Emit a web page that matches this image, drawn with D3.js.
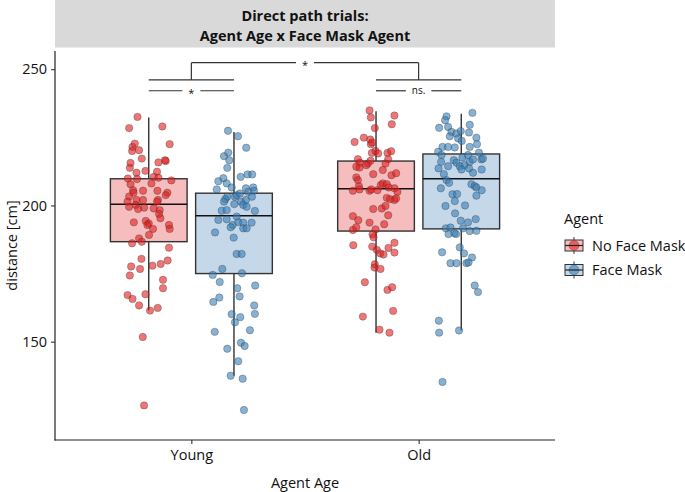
<!DOCTYPE html>
<html><head><meta charset="utf-8">
<script src="https://cdn.jsdelivr.net/npm/d3@7"></script>
<style>body{margin:0;background:#fff}svg{display:block}text{font-family:"Open Sans",sans-serif;fill:#111}</style>
</head><body><svg id="c" width="685" height="492"></svg>
<script>
// ---------- data ----------
const ages = ["Young", "Old"];
const agents = ["No Face Mask", "Face Mask"];
const yTicks = [150, 200, 250];
const titleLines = ["Direct path trials:", "Agent Age x Face Mask Agent"];

// box statistics [lowWhisker, q1, median, q3, highWhisker]
const boxYoungNoMask = [161.4, 186.7, 200.4, 209.8, 232.3];
const boxYoungMask   = [137.5, 175.0, 196.2, 204.5, 227.0];
const boxOldNoMask   = [153.3, 190.6, 206.1, 216.3, 234.6];
const boxOldMask     = [154.1, 191.4, 209.8, 218.9, 233.7];

// observations [distance, jitter]
const ptsYoungNoMask = [[232.5,-11.3],[228.4,-19.7],[229.0,13.7],[222.5,21],[221.5,-16.3],[222.7,-14],[220.3,-9.7],[220.0,-16.7],[217.2,-7],[215.6,-18.3],[213.8,-19],[215.8,9.7],[216.3,17],[216.6,16.3],[212.7,-3.3],[212.0,-12.3],[212.4,8.3],[210.5,5],[209.9,-21],[209.7,-11.7],[210.2,9.7],[209.2,22.7],[208.1,2.7],[207.8,-18.3],[205.6,-15.7],[205.4,-5.7],[204.7,-15.3],[205.4,8.7],[204.7,18.7],[203.8,17],[203.3,-19.7],[201.4,-21.3],[202.0,-12.3],[202.0,-5.7],[202.0,9.3],[201.4,8.3],[199.5,-19.7],[200.2,-13],[199.2,-4.7],[198.7,-10.7],[198.9,5],[198.3,11],[196.9,10.3],[195.3,11.7],[193.8,-15],[194.3,-3],[193.4,0],[192.8,-1.3],[192.8,20.3],[191.4,21],[191.4,4.3],[189.2,0.3],[187.9,-9.7],[186.7,-7],[186.1,-16.7],[184.5,20.3],[180.4,-7.3],[177.6,-17.7],[177.9,3.7],[178.5,12],[179.8,19],[176.7,-8.7],[174.3,-19],[172.7,14.3],[169.6,14.3],[167.1,-21.3],[165.7,-16.3],[167.4,-3.3],[163.3,-9.7],[162.4,9],[161.4,1.3],[151.7,-6],[126.6,-4.7]];
const ptsYoungMask = [[227.4,-6],[225.4,4],[221.2,12.3],[218.1,-10],[219.4,-5.7],[216.6,-4.7],[213.8,-6.7],[210.5,6.7],[211.4,13.7],[211.4,18.3],[210.0,-10.7],[208.9,-15.7],[208.1,-7.3],[205.9,-17.3],[206.3,12],[206.6,19.3],[205.4,20],[203.2,-6.7],[202.3,-8.7],[203.2,1],[201.4,7],[202.0,12],[203.2,18],[201.4,-10],[200.5,0.3],[200.2,9.3],[199.5,12.7],[198.0,21],[198.1,-12.3],[198.3,-7.3],[194.7,-15.7],[194.9,-7.3],[192.8,-1.3],[193.9,4.3],[193.7,9.3],[193.7,17.7],[191.6,9.3],[191.6,12.7],[192.0,-3.3],[190.1,-19],[188.2,-0.3],[182.2,2.7],[182.2,7.7],[176.7,-11.7],[175.1,8],[174.5,-21.3],[171.9,-14.3],[170.6,21.3],[169.6,3.3],[164.6,-20.7],[166.2,-14.7],[166.6,5.7],[163.3,20.3],[160.2,21],[160.1,-2.3],[159.0,6.3],[157.1,1],[154.2,16],[153.6,-19.3],[147.4,-6.7],[149.6,7],[148.4,10.7],[142.8,4.3],[137.5,-3.3],[136.4,8.7],[124.9,10],[203.8,2.7],[205.0,14.3],[206.6,-2.3],[204.4,6],[195.9,2.7]];
const ptsOldNoMask = [[234.9,-6.5],[232.3,-5.2],[233.0,18.5],[229.8,15.8],[228.4,-1.2],[223.3,-21.5],[224.9,-12.2],[224.2,-5.8],[222.5,-5.2],[223.1,-3.8],[219.3,-4.2],[220.0,-0.5],[219.1,2.2],[219.3,11.5],[219.9,15.2],[217.0,12.2],[217.0,-18.2],[215.7,-16.2],[215.4,-8.2],[216.4,-5.5],[215.4,9.5],[214.2,-19.8],[213.9,-16.5],[214.8,-9.8],[213.0,6.8],[211.1,15.5],[211.8,20.2],[211.5,-2.8],[210.3,-19.8],[209.3,-18.2],[207.1,-17.2],[207.5,4.8],[208.1,6.8],[207.8,10.8],[206.6,12.8],[206.3,18.5],[205.0,21.5],[205.4,-23.2],[205.9,-16.5],[205.4,-6.5],[205.9,-4.8],[205.6,1.5],[202.8,10.8],[202.3,14.2],[202.0,18.5],[202.6,20.2],[198.7,-2.8],[198.9,5.8],[199.8,9.5],[196.1,-23.2],[194.6,-17.8],[193.7,-6.5],[196.4,12.2],[193.1,8.2],[191.0,-23.2],[192.0,-19.8],[191.2,-0.5],[189.4,-3.5],[188.3,-2.5],[185.4,-22.8],[184.9,-3.8],[183.7,0.8],[182.4,4.2],[182.0,7.5],[184.4,12.5],[186.3,18.5],[182.7,18.5],[178.4,-1.2],[177.2,-1.5],[176.7,4.5],[171.8,-11.2],[169.0,11.5],[170.0,16.2],[161.3,17.2],[159.2,-13.2],[154.4,3.5],[153.3,13.5]];
const ptsOldMask = [[234.0,11.2],[232.7,-14.8],[231.3,-16.2],[228.5,-22.2],[228.8,-13.2],[229.6,8.5],[227.0,-9.8],[226.4,-4.8],[225.4,-11.5],[227.3,-0.5],[226.8,7.8],[224.6,-3.2],[224.9,15.2],[223.7,0.5],[221.5,-18.8],[221.5,-13.2],[221.3,-6.5],[221.5,8.5],[222.5,15.8],[219.7,-23.2],[218.5,-19.8],[217.6,1.2],[218.5,6.8],[219.4,17.8],[216.9,20.2],[216.0,-20.2],[216.6,-7.5],[215.7,-4.8],[214.4,-1.5],[214.8,3.2],[216.0,8.5],[216.9,11.8],[217.2,21.8],[213.6,-22.8],[214.4,-13.2],[213.2,0.2],[213.6,7.8],[212.0,11.8],[213.2,20.5],[211.5,-17.5],[209.3,-14.8],[208.3,-12.2],[207.8,10.2],[207.1,13.5],[206.3,-20.5],[206.6,15.2],[205.6,20.5],[204.1,-8.8],[204.2,-4.2],[203.6,15.2],[201.6,-6.5],[200.0,3.8],[199.8,-15.8],[197.1,-6.2],[194.4,-0.5],[195.0,14.5],[193.8,6.8],[191.6,-15.5],[191.9,-10.8],[191.6,1.8],[190.6,8.5],[190.7,15.2],[189.5,-12.8],[189.8,-6.8],[189.5,-5.2],[184.6,-1.5],[182.8,-19.2],[182.4,2.8],[178.8,-10.8],[178.8,-4.8],[178.8,5.2],[180.9,10.8],[179.1,7.3],[170.6,13.5],[168.2,16.8],[157.7,-22.5],[153.3,-22.2],[154.1,-2.2],[135.2,-18.8]];

// significance annotations
const withinTests = [{age:"Young", y:242.1, label:"*"}, {age:"Old", y:242.1, label:"ns."}];
const betweenTest = {from:"Young", to:"Old", y:252.4, foot:246.1, label:"*"};

// ---------- build ----------
const groups = [
  {age:"Young", agent:"No Face Mask", box:boxYoungNoMask, pts:ptsYoungNoMask},
  {age:"Young", agent:"Face Mask", box:boxYoungMask, pts:ptsYoungMask},
  {age:"Old", agent:"No Face Mask", box:boxOldNoMask, pts:ptsOldNoMask},
  {age:"Old", agent:"Face Mask", box:boxOldMask, pts:ptsOldMask}
];
const ptColor = {"No Face Mask":"#E41A1C", "Face Mask":"#377EB8"};
const boxColor = {"No Face Mask":"#F5BDBD", "Face Mask":"#C4D8EA"};

const svg = d3.select("#c");
const L = 55, R = 555, T = 51, B = 440;
const x = d3.scalePoint().domain(ages).range([L, R]).padding(0.6);
const step = x.step();
const dodge = d3.scaleBand().domain(agents).range([-step*0.375, step*0.375]);
const boxW = dodge.bandwidth()*0.9;
const y = d3.scaleLinear().domain([113.9, 256.7]).range([B, T]);
const jit = d3.scaleLinear().domain([-38.5, 38.5]).range([-boxW/2, boxW/2]);
const cx = g => x(g.age) + dodge(g.agent) + dodge.bandwidth()/2;

// strip header
svg.append("rect").attr("x", L).attr("y", 0).attr("width", R-L).attr("height", 47.5).attr("fill", "#D9D9D9");
titleLines.forEach((t,i) => svg.append("text").attr("x", (L+R)/2).attr("y", 21 + i*20)
  .attr("text-anchor","middle").attr("font-size", 14.5).attr("font-weight", 700).text(t));

// axes
const ya = svg.append("g").attr("transform", `translate(${L},0)`)
  .call(d3.axisLeft(y).tickValues(yTicks).tickSize(4).tickPadding(4));
const xa = svg.append("g").attr("transform", `translate(0,${B})`)
  .call(d3.axisBottom(x).tickSize(4).tickPadding(6));
[ya, xa].forEach(a => {
  a.select(".domain").remove();
  a.selectAll("line").attr("stroke", "#222");
  a.selectAll("text").attr("font-size", 14.5).attr("fill", "#222").style("font-family", "'Open Sans',sans-serif");
});
svg.append("line").attr("x1", L).attr("x2", L).attr("y1", T).attr("y2", B+0.5).attr("stroke","#222").attr("stroke-width",1.2);
svg.append("line").attr("x1", L-0.5).attr("x2", R).attr("y1", B).attr("y2", B).attr("stroke","#222").attr("stroke-width",1.2);

svg.append("text").attr("transform", `translate(17,${(T+B)/2}) rotate(-90)`).attr("text-anchor","middle")
  .attr("font-size", 14.5).text("distance [cm]");
svg.append("text").attr("x", (L+R)/2).attr("y", 488).attr("text-anchor","middle").attr("font-size", 14.5).text("Agent Age");

// boxes
const gb = svg.append("g");
groups.forEach(g => {
  const c = cx(g), [lo, q1, md, q3, hi] = g.box;
  gb.append("line").attr("x1", c).attr("x2", c).attr("y1", y(hi)).attr("y2", y(q3)).attr("stroke","#222").attr("stroke-width",1.3);
  gb.append("line").attr("x1", c).attr("x2", c).attr("y1", y(q1)).attr("y2", y(lo)).attr("stroke","#222").attr("stroke-width",1.3);
  gb.append("rect").attr("x", c-boxW/2).attr("y", y(q3)).attr("width", boxW).attr("height", y(q1)-y(q3))
    .attr("fill", boxColor[g.agent]).attr("stroke", "#333").attr("stroke-width", 1.4);
  gb.append("line").attr("x1", c-boxW/2).attr("x2", c+boxW/2).attr("y1", y(md)).attr("y2", y(md)).attr("stroke","#111").attr("stroke-width",1.5);
});

// points
const gp = svg.append("g");
groups.forEach(g => {
  const c = cx(g);
  gp.selectAll(null).data(g.pts).enter().append("circle")
    .attr("cx", d => c + jit(d[1])).attr("cy", d => y(d[0])).attr("r", 3.7)
    .attr("fill", ptColor[g.agent]).attr("fill-opacity", 0.6)
    .attr("stroke", "#333").attr("stroke-opacity", 0.55).attr("stroke-width", 0.6);
});

// significance
const ga = svg.append("g").attr("stroke", "#333").attr("stroke-width", 1.2);
function labelledLine(x1, x2, yy, label, fs) {
  const t = svg.append("text").attr("x", (x1+x2)/2).attr("y", yy + (label === "*" ? 6 : 3.5))
    .attr("text-anchor","middle").attr("font-size", fs).attr("fill", "#333").text(label);
  const w = t.node().getComputedTextLength();
  const gap = w/2 + 6;
  ga.append("line").attr("x1", x1).attr("x2", (x1+x2)/2 - gap).attr("y1", yy).attr("y2", yy);
  ga.append("line").attr("x1", (x1+x2)/2 + gap).attr("x2", x2).attr("y1", yy).attr("y2", yy);
}
withinTests.forEach(t => {
  const a = cx({age:t.age, agent:agents[0]}), b = cx({age:t.age, agent:agents[1]});
  labelledLine(a, b, y(t.y), t.label, t.label === "*" ? 11 : 10);
  ga.append("line").attr("x1", a).attr("x2", b).attr("y1", y(betweenTest.foot)).attr("y2", y(betweenTest.foot));
});
labelledLine(x(betweenTest.from), x(betweenTest.to), y(betweenTest.y), betweenTest.label, 11);
[betweenTest.from, betweenTest.to].forEach(a => ga.append("line").attr("x1", x(a)).attr("x2", x(a))
  .attr("y1", y(betweenTest.y)).attr("y2", y(betweenTest.foot)));

// legend
const lg = svg.append("g").attr("transform", "translate(565,0)");
lg.append("text").attr("x", -1).attr("y", 224).attr("font-size", 14.5).text("Agent");
agents.forEach((a, i) => {
  const cy = 245.5 + i*24.5;
  lg.append("line").attr("x1", 9).attr("x2", 9).attr("y1", cy-8.5).attr("y2", cy+8.5).attr("stroke","#333").attr("stroke-width",1);
  lg.append("rect").attr("x", 0).attr("y", cy-5.5).attr("width", 18).attr("height", 11)
    .attr("fill", boxColor[a]).attr("stroke", "#333").attr("stroke-width", 1);
  lg.append("circle").attr("cx", 9).attr("cy", cy).attr("r", 5).attr("fill", ptColor[a]).attr("fill-opacity", 0.6)
    .attr("stroke", "#333").attr("stroke-opacity", 0.55).attr("stroke-width", 0.6);
  lg.append("line").attr("x1", 0).attr("x2", 18).attr("y1", cy).attr("y2", cy).attr("stroke","#222").attr("stroke-width",1.2);
  lg.append("text").attr("x", 27).attr("y", cy + 5).attr("font-size", 14.5).text(a);
});
</script></body></html>
